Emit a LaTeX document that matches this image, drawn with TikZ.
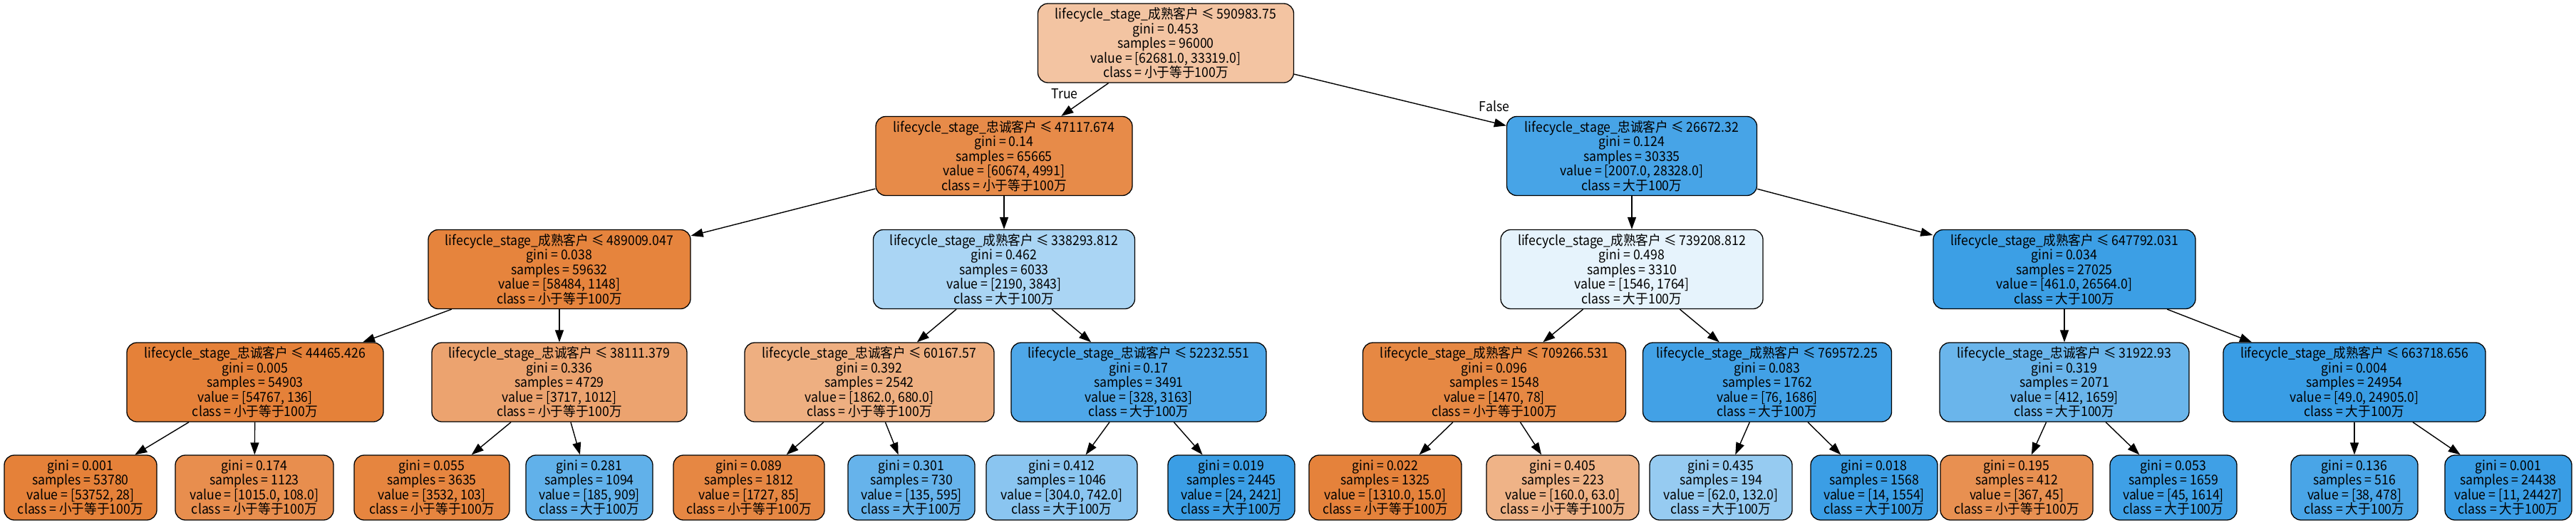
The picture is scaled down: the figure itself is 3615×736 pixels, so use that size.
\documentclass[tikz,border=0pt]{standalone}
\usepackage{fontspec}
\setmainfont{Noto Sans CJK SC}[FakeStretch=0.93]
\usetikzlibrary{arrows.meta}
\definecolor{ob}{RGB}{229,129,57}
\definecolor{bb}{RGB}{57,157,229}
\tikzset{
  tnode/.style={draw=black, line width=1.3pt, rounded corners=14pt, align=center,
    inner sep=0pt, minimum height=111pt,
    font=\fontsize{19pt}{20.5pt}\selectfont},
  leafnode/.style={tnode, minimum height=91pt},
  edge/.style={line width=1.4pt, -{Triangle[length=17pt,width=12pt]}},
  elabel/.style={font=\fontsize{19pt}{20pt}\selectfont, inner sep=0pt}
}
\begin{document}
\begin{tikzpicture}[x=1pt,y=-1pt]
\useasboundingbox (0,0) rectangle (3615,736);
% level 0
\node[tnode, fill=ob!46.8, minimum width=359pt] (root) at (1636,60.5) {lifecycle\_stage\_成熟客户 ≤ 590983.75\\gini = 0.453\\samples = 96000\\value = [62681.0, 33319.0]\\class = 小于等于100万};
% level 1
\node[tnode, fill=ob!91.8, minimum width=360pt] (A) at (1409,219) {lifecycle\_stage\_忠诚客户 ≤ 47117.674\\gini = 0.14\\samples = 65665\\value = [60674, 4991]\\class = 小于等于100万};
\node[tnode, fill=bb!92.9, minimum width=351pt] (B) at (2290,219) {lifecycle\_stage\_忠诚客户 ≤ 26672.32\\gini = 0.124\\samples = 30335\\value = [2007.0, 28328.0]\\class = 大于100万};
% level 2
\node[tnode, fill=ob!98, minimum width=368pt] (C) at (785,378) {lifecycle\_stage\_成熟客户 ≤ 489009.047\\gini = 0.038\\samples = 59632\\value = [58484, 1148]\\class = 小于等于100万};
\node[tnode, fill=bb!43, minimum width=367pt] (D) at (1409,378) {lifecycle\_stage\_成熟客户 ≤ 338293.812\\gini = 0.462\\samples = 6033\\value = [2190, 3843]\\class = 大于100万};
\node[tnode, fill=bb!12.4, minimum width=368pt] (E) at (2290,378) {lifecycle\_stage\_成熟客户 ≤ 739208.812\\gini = 0.498\\samples = 3310\\value = [1546, 1764]\\class = 大于100万};
\node[tnode, fill=bb!98.3, minimum width=368pt] (F) at (2897,378) {lifecycle\_stage\_成熟客户 ≤ 647792.031\\gini = 0.034\\samples = 27025\\value = [461.0, 26564.0]\\class = 大于100万};
% level 3
\node[tnode, fill=ob!99.8, minimum width=360pt] (G) at (358,536.5) {lifecycle\_stage\_忠诚客户 ≤ 44465.426\\gini = 0.005\\samples = 54903\\value = [54767, 136]\\class = 小于等于100万};
\node[tnode, fill=ob!72.8, minimum width=358pt] (H) at (785,536.5) {lifecycle\_stage\_忠诚客户 ≤ 38111.379\\gini = 0.336\\samples = 4729\\value = [3717, 1012]\\class = 小于等于100万};
\node[tnode, fill=ob!63.5, minimum width=350pt] (I) at (1220,536.5) {lifecycle\_stage\_忠诚客户 ≤ 60167.57\\gini = 0.392\\samples = 2542\\value = [1862.0, 680.0]\\class = 小于等于100万};
\node[tnode, fill=bb!89.6, minimum width=358pt] (J) at (1598,536.5) {lifecycle\_stage\_忠诚客户 ≤ 52232.551\\gini = 0.17\\samples = 3491\\value = [328, 3163]\\class = 大于100万};
\node[tnode, fill=ob!94.7, minimum width=369pt] (K) at (2097,536.5) {lifecycle\_stage\_成熟客户 ≤ 709266.531\\gini = 0.096\\samples = 1548\\value = [1470, 78]\\class = 小于等于100万};
\node[tnode, fill=bb!95.5, minimum width=349pt] (L) at (2480,536.5) {lifecycle\_stage\_成熟客户 ≤ 769572.25\\gini = 0.083\\samples = 1762\\value = [76, 1686]\\class = 大于100万};
\node[tnode, fill=bb!75.2, minimum width=350pt] (M) at (2897,536.5) {lifecycle\_stage\_忠诚客户 ≤ 31922.93\\gini = 0.319\\samples = 2071\\value = [412, 1659]\\class = 大于100万};
\node[tnode, fill=bb!99.8, minimum width=368pt] (N) at (3304,536.5) {lifecycle\_stage\_成熟客户 ≤ 663718.656\\gini = 0.004\\samples = 24954\\value = [49.0, 24905.0]\\class = 大于100万};
% leaves
\node[leafnode, fill=ob!99.9, minimum width=214pt] (l1) at (113,684.5) {gini = 0.001\\samples = 53780\\value = [53752, 28]\\class = 小于等于100万};
\node[leafnode, fill=ob!89.4, minimum width=222pt] (l2) at (357,684.5) {gini = 0.174\\samples = 1123\\value = [1015.0, 108.0]\\class = 小于等于100万};
\node[leafnode, fill=ob!97.1, minimum width=218pt] (l3) at (606,684.5) {gini = 0.055\\samples = 3635\\value = [3532, 103]\\class = 小于等于100万};
\node[leafnode, fill=bb!79.6, minimum width=178pt] (l4) at (827,684.5) {gini = 0.281\\samples = 1094\\value = [185, 909]\\class = 大于100万};
\node[leafnode, fill=ob!95.1, minimum width=212pt] (l5) at (1051,684.5) {gini = 0.089\\samples = 1812\\value = [1727, 85]\\class = 小于等于100万};
\node[leafnode, fill=bb!77.3, minimum width=178pt] (l6) at (1279,684.5) {gini = 0.301\\samples = 730\\value = [135, 595]\\class = 大于100万};
\node[leafnode, fill=bb!59, minimum width=212pt] (l7) at (1490,684.5) {gini = 0.412\\samples = 1046\\value = [304.0, 742.0]\\class = 大于100万};
\node[leafnode, fill=bb!99, minimum width=178pt] (l8) at (1728,684.5) {gini = 0.019\\samples = 2445\\value = [24, 2421]\\class = 大于100万};
\node[leafnode, fill=ob!98.9, minimum width=214pt] (l9) at (1944,684.5) {gini = 0.022\\samples = 1325\\value = [1310.0, 15.0]\\class = 小于等于100万};
\node[leafnode, fill=ob!60.6, minimum width=214pt] (l10) at (2193,684.5) {gini = 0.405\\samples = 223\\value = [160.0, 63.0]\\class = 小于等于100万};
\node[leafnode, fill=bb!53, minimum width=200pt] (l11) at (2415,684.5) {gini = 0.435\\samples = 194\\value = [62.0, 132.0]\\class = 大于100万};
\node[leafnode, fill=bb!99.1, minimum width=178pt] (l12) at (2630,684.5) {gini = 0.018\\samples = 1568\\value = [14, 1554]\\class = 大于100万};
\node[leafnode, fill=ob!87.7, minimum width=214pt] (l13) at (2830,684.5) {gini = 0.195\\samples = 412\\value = [367, 45]\\class = 小于等于100万};
\node[leafnode, fill=bb!97.2, minimum width=178pt] (l14) at (3050,684.5) {gini = 0.053\\samples = 1659\\value = [45, 1614]\\class = 大于100万};
\node[leafnode, fill=bb!92, minimum width=178pt] (l15) at (3304,684.5) {gini = 0.136\\samples = 516\\value = [38, 478]\\class = 大于100万};
\node[leafnode, fill=bb!99.9, minimum width=178pt] (l16) at (3520,684.5) {gini = 0.001\\samples = 24438\\value = [11, 24427]\\class = 大于100万};
% edges
\draw[edge] (root) -- (A);
\draw[edge] (root) -- (B);
\draw[edge] (A) -- (C);
\draw[edge] (A) -- (D);
\draw[edge] (B) -- (E);
\draw[edge] (B) -- (F);
\draw[edge] (C) -- (G);
\draw[edge] (C) -- (H);
\draw[edge] (D) -- (I);
\draw[edge] (D) -- (J);
\draw[edge] (E) -- (K);
\draw[edge] (E) -- (L);
\draw[edge] (F) -- (M);
\draw[edge] (F) -- (N);
\draw[edge] (G) -- (l1);
\draw[edge] (G) -- (l2);
\draw[edge] (H) -- (l3);
\draw[edge] (H) -- (l4);
\draw[edge] (I) -- (l5);
\draw[edge] (I) -- (l6);
\draw[edge] (J) -- (l7);
\draw[edge] (J) -- (l8);
\draw[edge] (K) -- (l9);
\draw[edge] (K) -- (l10);
\draw[edge] (L) -- (l11);
\draw[edge] (L) -- (l12);
\draw[edge] (M) -- (l13);
\draw[edge] (M) -- (l14);
\draw[edge] (N) -- (l15);
\draw[edge] (N) -- (l16);
% edge labels
\node[elabel] (tlab) at (1494,132) {True};
\node[elabel] (flab) at (2097,149) {False};
\end{tikzpicture}
\end{document}
